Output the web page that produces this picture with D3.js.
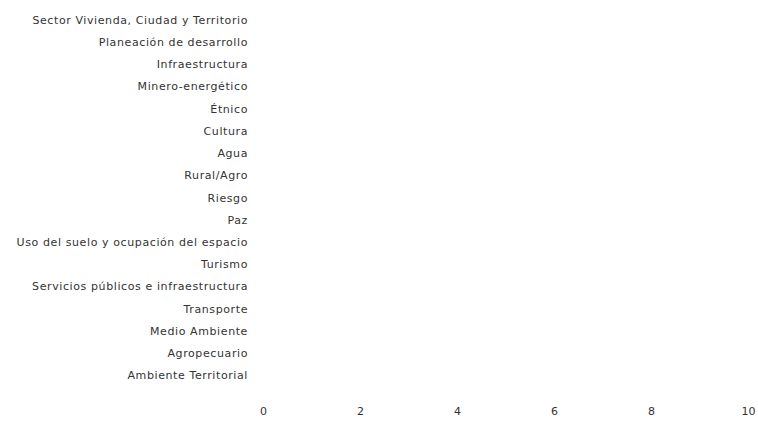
<!DOCTYPE html>
<html>
<head>
<meta charset="utf-8">
<script src="https://cdn.jsdelivr.net/npm/d3@7"></script>
<style>
  body { margin: 0; background: #fff; }
  text { font-family: "DejaVu Sans", sans-serif; fill: #333; }
</style>
</head>
<body>
<div id="container"></div>
<script>
const width = 758;
const height = 421;

// categories, top to bottom
const categories = [
  "Sector Vivienda, Ciudad y Territorio",
  "Planeación de desarrollo",
  "Infraestructura",
  "Minero-energético",
  "Étnico",
  "Cultura",
  "Agua",
  "Rural/Agro",
  "Riesgo",
  "Paz",
  "Uso del suelo y ocupación del espacio",
  "Turismo",
  "Servicios públicos e infraestructura",
  "Transporte",
  "Medio Ambiente",
  "Agropecuario",
  "Ambiente Territorial"
];

// no bars are visible in the picture
const values = [0, 0, 0, 0, 0, 0, 0, 0, 0, 0, 0, 0, 0, 0, 0, 0, 0];

const xTicks = [0, 2, 4, 6, 8, 10];

const svg = d3.create("svg")
    .attr("width", width)
    .attr("height", height);

const x = d3.scaleLinear()
    .domain([0, 10])
    .range([263, 748]);

const y = d3.scaleBand()
    .domain(categories)
    .range([6.75, 389.25])
    .padding(0.2);

// bars
svg.append("g")
  .selectAll("rect")
  .data(categories)
  .join("rect")
    .attr("x", x(0))
    .attr("y", d => y(d))
    .attr("height", y.bandwidth())
    .attr("width", (d, i) => x(values[i]) - x(0))
    .attr("fill", "#4e79a7");

// category labels
svg.append("g")
    .attr("transform", "translate(255,0)")
    .call(d3.axisLeft(y).tickSize(0).tickPadding(7))
    .call(g => g.select(".domain").remove())
    .selectAll("text")
    .style("font-size", "11px")
    .style("letter-spacing", "0.6px")
    .style("fill", "#333");

// value axis
svg.append("g")
    .attr("transform", "translate(0,403)")
    .call(d3.axisBottom(x).tickValues(xTicks).tickSize(0).tickPadding(4))
    .call(g => g.select(".domain").remove())
    .selectAll("text")
    .style("font-size", "11px")
    .style("fill", "#333");

container.append(svg.node());
</script>
</body>
</html>
